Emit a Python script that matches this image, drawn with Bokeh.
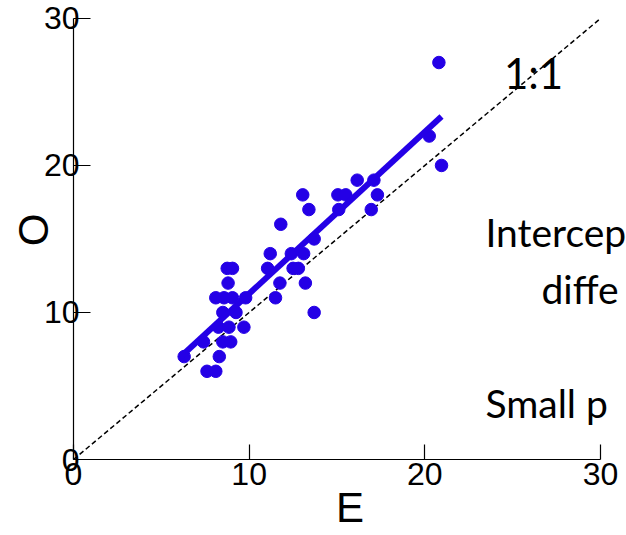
from bokeh.plotting import figure
from bokeh.models import Range1d, Label, FixedTicker
from bokeh.embed import file_html
from bokeh.resources import INLINE

E = [6.3, 7.4, 7.6, 8.1, 8.3, 8.5, 8.95, 8.25, 8.85, 9.7, 8.5, 9.25,
     8.1, 8.57, 9.05, 9.8, 8.8, 8.75, 9.05, 11.05, 11.2, 11.5, 11.75, 11.8,
     12.4, 13.1, 12.5, 12.8, 13.2, 13.7, 13.7, 13.05, 13.4, 15.05, 15.5,
     15.1, 16.95, 17.3, 16.15, 17.1, 20.25, 20.95, 20.8]
O = [7, 8, 6, 6, 7, 8, 8, 9, 9, 9, 10, 10,
     11, 11, 11, 11, 12, 13, 13, 13, 14, 11, 12, 16,
     14, 14, 13, 13, 12, 10, 15, 18, 17, 18, 18,
     17, 17, 18, 19, 19, 22, 20, 27]

# regression line
fit_E = [6.1, 20.95]
fit_slope = 1.10
fit_intercept = 0.28

# 1:1 reference line
one_to_one = [0, 30]

ticks = [0, 10, 20, 30]

BLUE = "#2400E6"

p = figure(width=626, height=535, output_backend="svg", toolbar_location=None,
           x_range=Range1d(0, 31.48), y_range=Range1d(0, 31.22),
           min_border_left=73, min_border_right=0, min_border_top=0, min_border_bottom=76)
p.outline_line_color = None
p.grid.visible = False
p.background_fill_color = "white"
p.border_fill_color = "white"

# 1:1 dashed line
p.line(one_to_one, one_to_one, line_color="black", line_width=1.5, line_dash="5 3")

# scatter
p.scatter(E, O, size=12.5, color=BLUE, line_color=BLUE)

# regression
fit_O = [fit_slope * e + fit_intercept for e in fit_E]
p.line(fit_E, fit_O, line_color=BLUE, line_width=6)

for ax in (p.xaxis[0], p.yaxis[0]):
    ax.ticker = FixedTicker(ticks=ticks)
    ax.bounds = (0, 30)
    ax.minor_tick_line_color = None
    ax.major_tick_out = 0
    ax.axis_line_color = "black"
    ax.axis_line_width = 1.2
    ax.major_tick_line_color = "black"
    ax.major_tick_line_width = 1.2
    ax.major_label_text_font = "Liberation Sans"
    ax.major_label_text_font_size = "32px"
    ax.major_label_text_color = "black"
    ax.axis_label_text_font = "Liberation Sans"
    ax.axis_label_text_font_size = "42px"
    ax.axis_label_text_font_style = "normal"
    ax.axis_label_text_color = "black"

p.xaxis.major_tick_in = 15
p.yaxis.major_tick_in = 17
p.xaxis.major_label_standoff = 3
p.yaxis.major_label_standoff = -6
p.xaxis.axis_label = "E"
p.yaxis.axis_label = "O"
p.xaxis.axis_label_standoff = -4
p.yaxis.axis_label_standoff = -16

FONT = "Lato"
for txt, x, y, fs in [("1:1", 24.5, 26.26, "42px"), ("Intercep", 23.45, 15.44, "39px"),
                      ("diffe", 26.64, 11.63, "39px"), ("Small p", 23.45, 3.81, "39px")]:
    p.add_layout(Label(x=x, y=y, text=txt, text_font=FONT, text_font_size=fs,
                       text_color="black", text_baseline="alphabetic"))

open("out.html", "w").write(file_html(p, INLINE))
